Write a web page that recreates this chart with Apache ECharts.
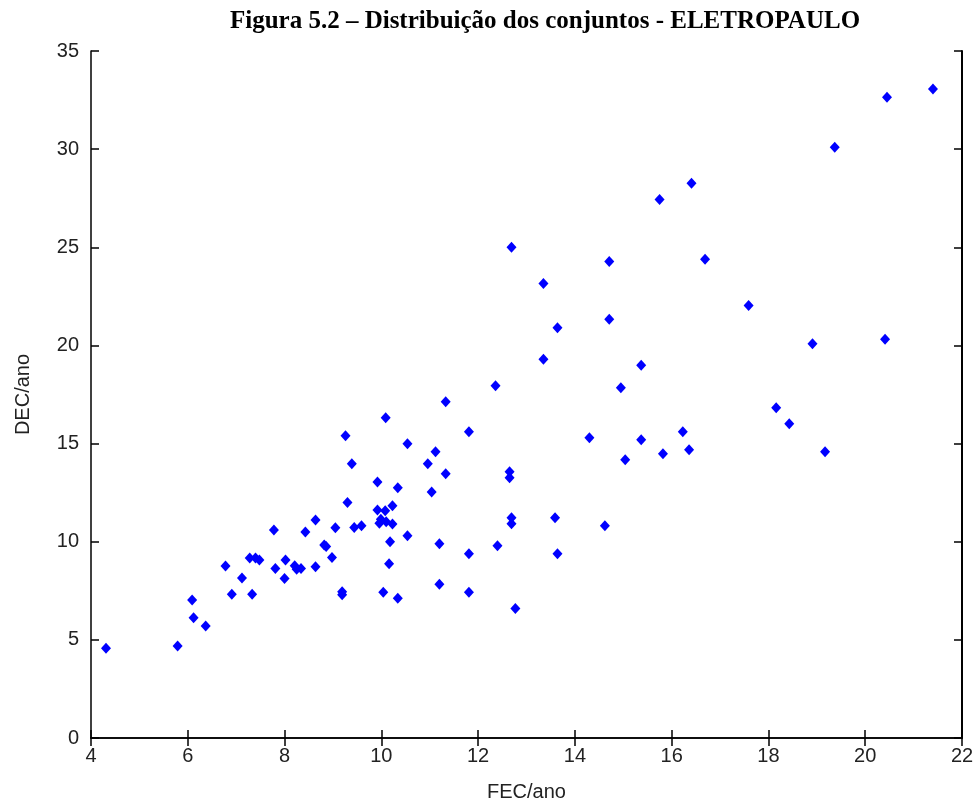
<!DOCTYPE html>
<html>
<head>
<meta charset="utf-8">
<script src="https://cdn.jsdelivr.net/npm/echarts@6/dist/echarts.min.js"></script>
<style>
html, body { margin: 0; padding: 0; background: #fff; }
#chart { width: 979px; height: 809px; }
</style>
</head>
<body>
<div id="chart"></div>
<script>
// FEC/ano (x) e DEC/ano (y) de cada conjunto
var fec = [4.31, 5.79, 6.09, 6.12, 6.37, 6.78, 6.91, 7.12, 7.33, 7.28, 7.40, 7.48, 7.78, 7.81, 8.02, 8.00,
    8.21, 8.25, 8.34, 8.43, 8.64, 8.64, 8.82, 8.86, 8.98, 9.05, 9.19, 9.19, 9.30, 9.44, 9.59, 9.26,
    9.39, 9.92, 9.92, 10.08, 10.23, 9.99, 9.96, 10.10, 10.23, 10.54, 10.18, 10.16, 10.04, 10.34, 10.34, 10.09,
    10.54, 11.04, 10.96, 11.12, 11.33, 11.33, 11.20, 11.20, 11.81, 11.81, 11.81, 12.36, 12.40, 12.65, 12.65, 12.69,
    12.69, 12.77, 12.69, 13.35, 13.35, 13.64, 13.59, 13.64, 14.30, 14.62, 14.71, 14.71, 14.95, 15.04, 15.37, 15.37,
    15.75, 15.82, 16.23, 16.36, 16.41, 16.69, 17.59, 18.16, 18.43, 18.91, 19.17, 19.37, 20.41, 20.45, 21.40];
var dec = [4.57, 4.69, 7.03, 6.13, 5.70, 8.76, 7.32, 8.15, 7.32, 9.17, 9.17, 9.07, 10.60, 8.64, 9.07, 8.13,
    8.78, 8.60, 8.64, 10.49, 11.10, 8.73, 9.83, 9.75, 9.20, 10.71, 7.30, 7.45, 12.00, 10.72, 10.81, 15.40,
    13.97, 13.04, 11.61, 11.58, 11.83, 11.14, 10.94, 11.02, 10.90, 10.31, 10.00, 8.88, 7.42, 7.12, 12.75, 16.32,
    14.99, 12.53, 13.97, 14.58, 13.46, 17.13, 9.90, 7.83, 15.60, 9.39, 7.42, 17.95, 9.80, 13.57, 13.26, 11.22,
    10.91, 6.60, 25.00, 23.16, 19.29, 20.90, 11.22, 9.39, 15.30, 10.81, 24.27, 21.33, 17.85, 14.18, 18.99, 15.20,
    27.44, 14.48, 15.60, 14.69, 28.26, 24.39, 22.04, 16.83, 16.01, 20.09, 14.58, 30.10, 20.31, 32.65, 33.06];

var pontos = [];
for (var i = 0; i < fec.length; i++) {
    pontos.push([fec[i], dec[i]]);
}

var fonteEixo = 'Liberation Sans';
var corTexto = '#222';

var option = {
    animation: false,
    title: {
        text: 'Figura 5.2 – Distribuição dos conjuntos - ELETROPAULO',
        left: 540,
        top: 4,
        textAlign: 'center',
        textStyle: {
            fontFamily: 'Liberation Serif',
            fontWeight: 'bold',
            fontSize: 25,
            color: '#000'
        }
    },
    grid: {
        left: 91,
        right: 17,
        top: 51,
        bottom: 71
    },
    xAxis: [{
        type: 'value',
        min: 4,
        max: 22,
        interval: 2,
        name: 'FEC/ano',
        nameLocation: 'middle',
        nameGap: 44,
        nameTextStyle: { fontFamily: fonteEixo, fontSize: 20, color: corTexto },
        axisLine: { lineStyle: { color: '#000', width: 1.5 } },
        axisTick: { inside: true, length: 8, lineStyle: { color: '#000', width: 1.5 } },
        axisLabel: { fontFamily: fonteEixo, fontSize: 20, color: corTexto, margin: 8 },
        splitLine: { show: false }
    }, {
        type: 'value',
        position: 'top',
        min: 4,
        max: 22,
        interval: 2,
        axisLine: { lineStyle: { color: '#000', width: 1.5 } },
        axisTick: { inside: true, length: 8, lineStyle: { color: '#000', width: 1.5 } },
        axisLabel: { show: false },
        splitLine: { show: false }
    }],
    yAxis: [{
        type: 'value',
        min: 0,
        max: 35,
        interval: 5,
        name: 'DEC/ano',
        nameLocation: 'middle',
        nameGap: 58,
        nameTextStyle: { fontFamily: fonteEixo, fontSize: 20, color: corTexto },
        axisLine: { lineStyle: { color: '#000', width: 1.5 } },
        axisTick: { inside: true, length: 8, lineStyle: { color: '#000', width: 1.5 } },
        axisLabel: { fontFamily: fonteEixo, fontSize: 20, color: corTexto, margin: 12 },
        splitLine: { show: false }
    }, {
        type: 'value',
        position: 'right',
        min: 0,
        max: 35,
        interval: 5,
        axisLine: { lineStyle: { color: '#000', width: 2 } },
        axisTick: { inside: true, length: 8, lineStyle: { color: '#000', width: 1.5 } },
        axisLabel: { show: false },
        splitLine: { show: false }
    }],
    series: [{
        type: 'scatter',
        xAxisIndex: 0,
        yAxisIndex: 0,
        symbol: 'diamond',
        symbolSize: [10, 11],
        itemStyle: { color: '#0000ff', opacity: 1 },
        data: pontos
    }]
};

var chart = echarts.init(document.getElementById('chart'));
chart.setOption(option);
</script>
</body>
</html>
